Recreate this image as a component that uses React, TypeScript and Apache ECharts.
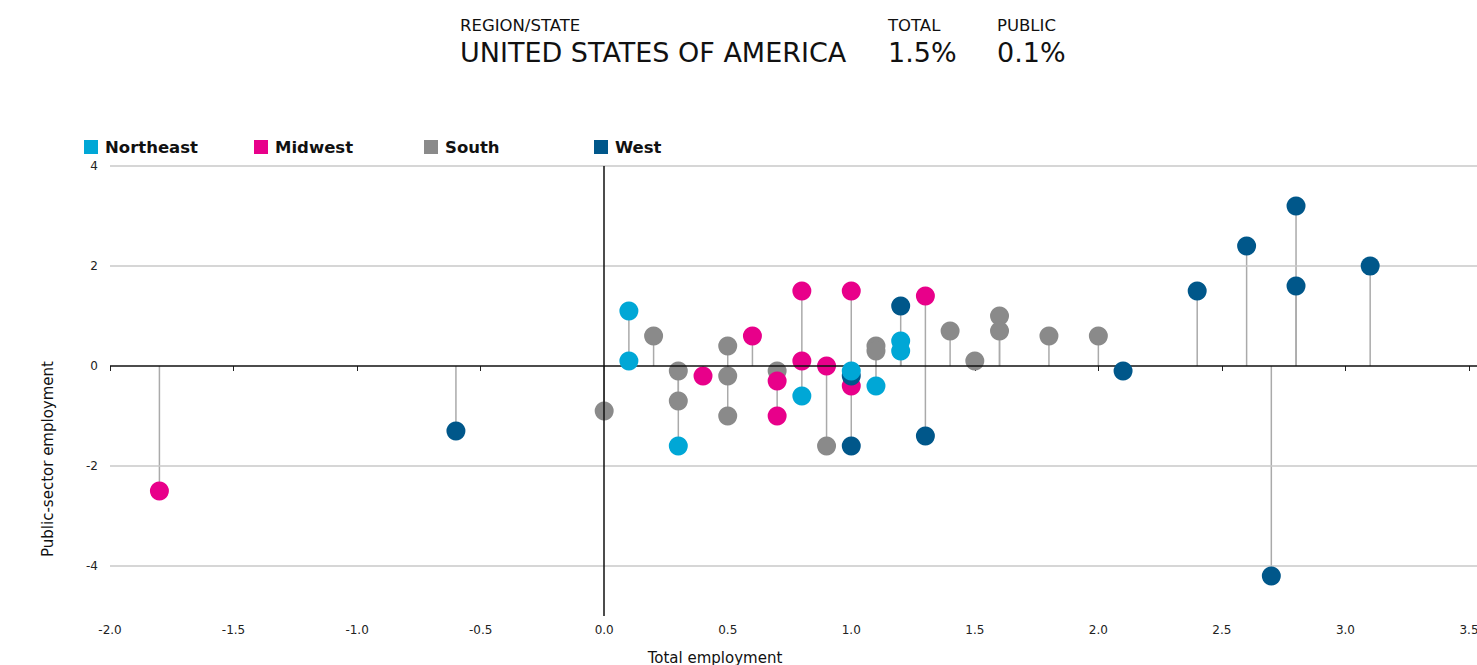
import React, { useEffect, useRef } from "react";
import * as echarts from "echarts";

const regions = ["Northeast", "Midwest", "South", "West"];
const regionColors = ["#00a7d6", "#e8008a", "#8a8a8a", "#00578a"];

const northeastX = [0.1, 0.1, 0.3, 0.8, 1.0, 1.1, 1.2, 1.2];
const northeastY = [1.1, 0.1, -1.6, -0.6, -0.1, -0.4, 0.5, 0.3];
const midwestX = [-1.8, 0.4, 0.6, 0.7, 0.7, 0.8, 0.8, 0.9, 1.0, 1.0, 1.3];
const midwestY = [-2.5, -0.2, 0.6, -0.3, -1.0, 1.5, 0.1, 0.0, 1.5, -0.4, 1.4];
const southX = [0.0, 0.2, 0.3, 0.3, 0.5, 0.5, 0.5, 0.7, 0.9, 1.1, 1.1, 1.4, 1.5, 1.6, 1.6, 1.8, 2.0];
const southY = [-0.9, 0.6, -0.1, -0.7, 0.4, -0.2, -1.0, -0.1, -1.6, 0.4, 0.3, 0.7, 0.1, 1.0, 0.7, 0.6, 0.6];
const westX = [-0.6, 1.0, 1.0, 1.2, 1.3, 2.1, 2.4, 2.6, 2.7, 2.8, 2.8, 3.1];
const westY = [-1.3, -0.2, -1.6, 1.2, -1.4, -0.1, 1.5, 2.4, -4.2, 3.2, 1.6, 2.0];

const xTicks = [-2.0, -1.5, -1.0, -0.5, 0.0, 0.5, 1.0, 1.5, 2.0, 2.5, 3.0, 3.5];
const yTicks = [-4, -2, 0, 2, 4];
const gridValues = [4, 2, -2, -4];

const headerLabel = "REGION/STATE";
const headerName = "UNITED STATES OF AMERICA";
const totalLabel = "TOTAL";
const totalValue = "1.5%";
const publicLabel = "PUBLIC";
const publicValue = "0.1%";
const xName = "Total employment";
const yName = "Public-sector employment";

const FONT = '"DejaVu Sans", sans-serif';

function zip(xs: number[], ys: number[]) {
  return xs.map((x, i) => [x, ys[i]]);
}

export default function App() {
  const ref = useRef<HTMLDivElement>(null);
  useEffect(() => {
    if (!ref.current) return;
    const chart = echarts.init(ref.current, null, { renderer: "svg" });
    const groups = [
      zip(northeastX, northeastY),
      zip(midwestX, midwestY),
      zip(southX, southY),
      zip(westX, westY),
    ];
    const allPoints = groups.flat();
    const drawOrder = [2, 1, 3, 0];

    const headerText = (text: string, x: number, y: number, size: number) => ({
      type: "text",
      style: {
        text,
        x,
        y,
        font: `${size}px ${FONT}`,
        fill: "#111",
        textVerticalAlign: "middle",
        verticalAlign: "middle",
      },
    });

    const legendItems = regions.map((r, i) => ({
      type: "group",
      x: 84 + i * 170,
      y: 140,
      children: [
        { type: "rect", shape: { x: 0, y: 0, width: 14, height: 14 }, style: { fill: regionColors[i] } },
        {
          type: "text",
          style: {
            text: r,
            x: 21,
            y: 7.5,
            font: `bold 16.5px ${FONT}`,
            fill: "#111",
            textVerticalAlign: "middle",
            verticalAlign: "middle",
          },
        },
      ],
    }));

    const option: any = {
      animation: false,
      textStyle: { fontFamily: FONT },
      grid: {
        left: 110,
        right: 0,
        top: 166,
        bottom: 49,
        containLabel: false,
        outerBoundsMode: "none",
      },
      xAxis: {
        type: "value",
        min: -2.0,
        max: 3.5 + 8 / 247,
        interval: 0.5,
        axisLine: { show: false },
        axisTick: {
          show: true,
          length: 5,
          customValues: xTicks,
          lineStyle: { color: "#222", width: 1 },
        },
        axisLabel: {
          color: "#222",
          fontSize: 12,
          margin: 8,
          customValues: xTicks,
          hideOverlap: false,
          formatter: (v: number) => (v > 3.51 ? "" : v.toFixed(1)),
        },
        splitLine: { show: false },
      },
      yAxis: {
        type: "value",
        min: -5,
        max: 4,
        interval: 1,
        axisLine: { show: false },
        axisTick: { show: false },
        axisLabel: {
          color: "#222",
          fontSize: 12,
          margin: 12,
          formatter: (v: number) => (yTicks.indexOf(v) >= 0 ? String(v) : ""),
        },
        splitLine: { show: false },
      },
      graphic: [
        headerText(headerLabel, 460, 25, 16.5),
        headerText(headerName, 460, 52, 27),
        headerText(totalLabel, 888, 25, 16.5),
        headerText(totalValue, 888, 52, 27),
        headerText(publicLabel, 997, 25, 16.5),
        headerText(publicValue, 997, 52, 27),
        ...legendItems,
        {
          type: "text",
          x: 48,
          y: 459,
          rotation: Math.PI / 2,
          style: {
            text: yName,
            x: 0,
            y: 0,
            font: `15px ${FONT}`,
            fill: "#111",
            textAlign: "center",
            align: "center",
            textVerticalAlign: "middle",
            verticalAlign: "middle",
          },
        },
        {
          type: "text",
          style: {
            text: xName,
            x: 715,
            y: 658,
            font: `15px ${FONT}`,
            fill: "#111",
            textAlign: "center",
            align: "center",
            textVerticalAlign: "middle",
            verticalAlign: "middle",
          },
        },
      ],
      series: [
        {
          type: "custom",
          name: "stems",
          z: 2,
          silent: true,
          data: allPoints,
          renderItem: (params: any, api: any) => {
            const x = api.value(0);
            const y = api.value(1);
            const p0 = api.coord([x, 0]);
            const p1 = api.coord([x, y]);
            return {
              type: "line",
              shape: { x1: p0[0], y1: p0[1], x2: p1[0], y2: p1[1] },
              style: { stroke: "#aaaaaa", lineWidth: 1.5 },
            };
          },
          markLine: {
            silent: true,
            symbol: "none",
            label: { show: false },
            data: [
              ...gridValues.map((v) => ({ yAxis: v, lineStyle: { color: "#c8c8c8", width: 1.5, type: "solid" } })),
              { yAxis: 0, lineStyle: { color: "#111", width: 1.5, type: "solid" } },
              { xAxis: 0, lineStyle: { color: "#111", width: 1.5, type: "solid" } },
            ],
          },
        },
        ...drawOrder.map((i) => ({
          type: "scatter",
          name: regions[i],
          z: 3 + drawOrder.indexOf(i),
          symbol: "circle",
          symbolSize: 19,
          itemStyle: { color: regionColors[i], opacity: 1 },
          data: groups[i],
        })),
      ],
    };
    chart.setOption(option);
    return () => chart.dispose();
  }, []);
  return (
    <div
      ref={ref}
      style={{ position: "absolute", left: 0, top: 0, width: 1477, height: 665, background: "#fff" }}
    />
  );
}
